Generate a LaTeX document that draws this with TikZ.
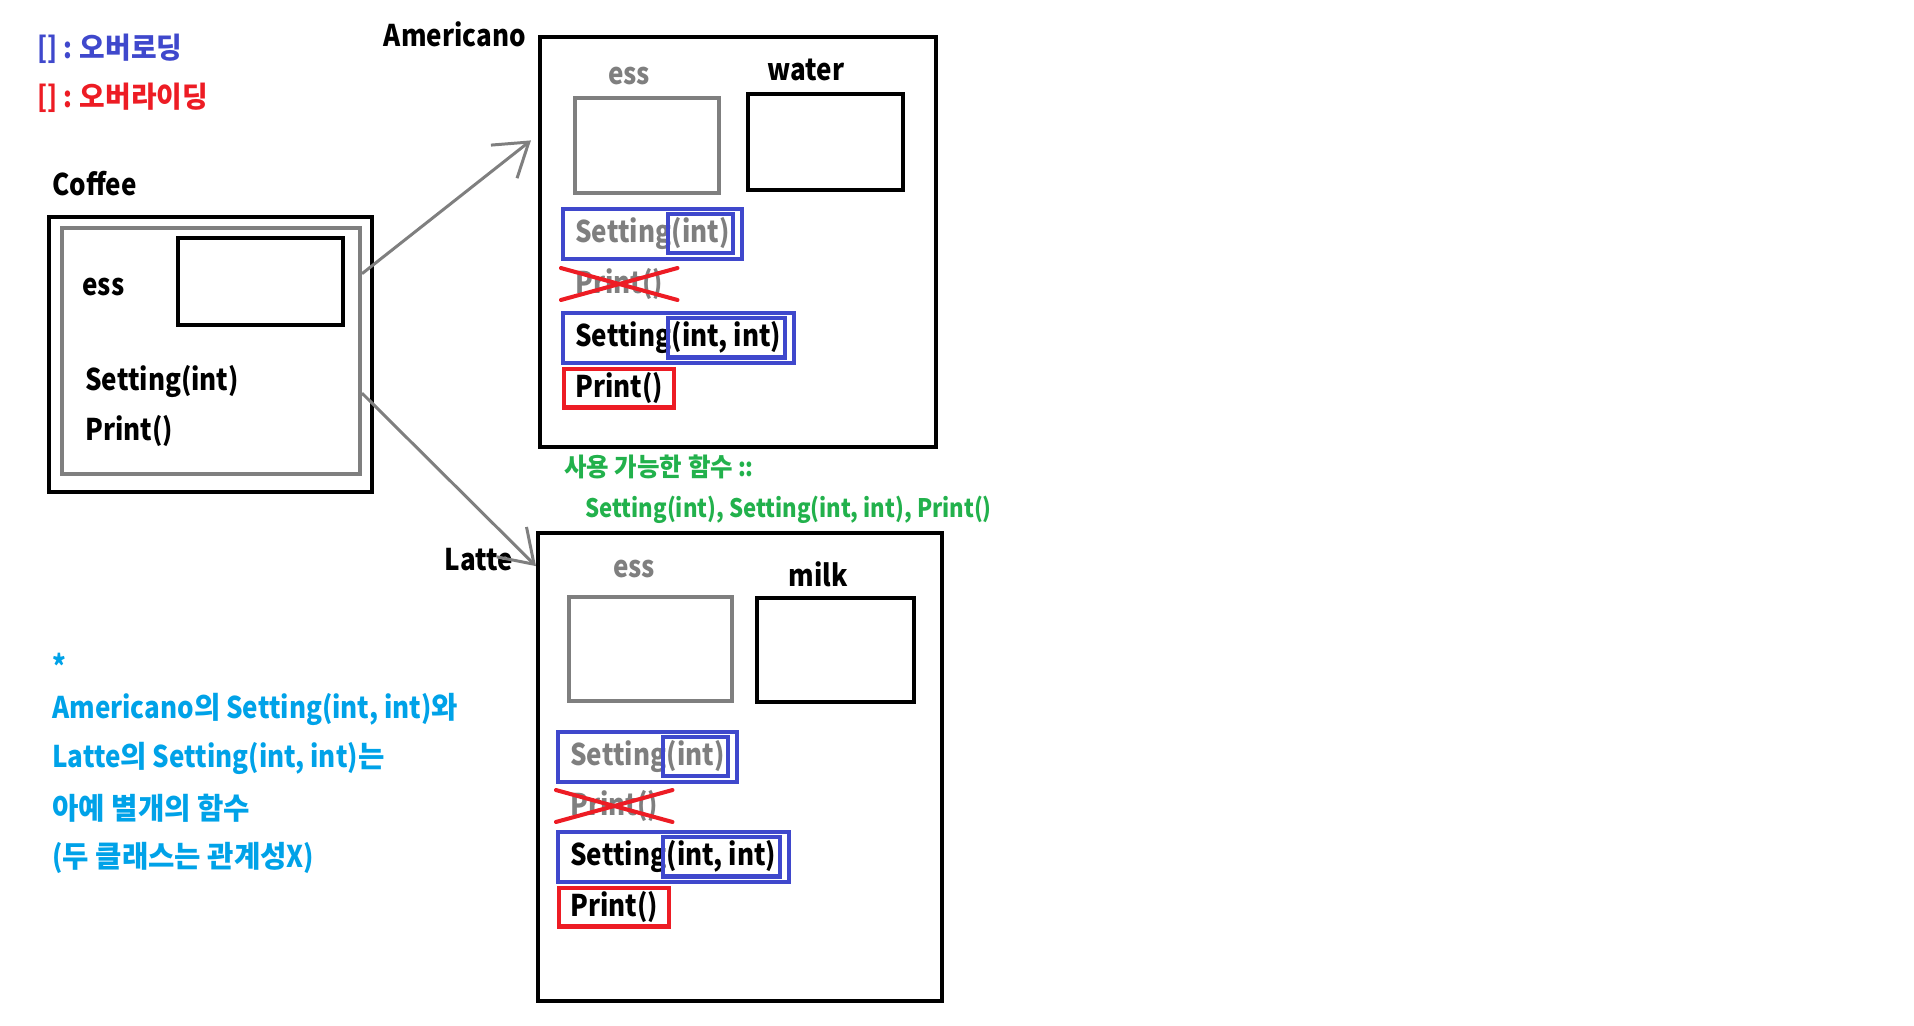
\documentclass[tikz,border=0pt]{standalone}
\usepackage{fontspec}
\setmainfont{Noto Sans CJK KR}[FakeStretch=0.87]
\newfontfamily\kr{Noto Sans CJK KR}[FakeStretch=0.96]
\usetikzlibrary{positioning,fit,arrows.meta}
\definecolor{pblue}{HTML}{3F48CC}
\definecolor{pred}{HTML}{ED1C24}
\definecolor{pgreen}{HTML}{22B14C}
\definecolor{pcyan}{HTML}{00A2E8}
\definecolor{pgray}{HTML}{7F7F7F}
\tikzset{
  clsbox/.style={draw, line width=2.3pt, inner sep=0pt},
  basebox/.style={draw=pgray, line width=2.3pt, inner sep=0pt},
  member/.style={font=\bfseries\fontsize{17}{20}\selectfont, inner sep=0pt},
  inherited/.style={member, text=pgray},
  ovlbox/.style={draw=pblue, line width=2.3pt},
  ovrbox/.style={draw=pred, line width=2.3pt, inner xsep=6pt, inner ysep=2pt},
  hidden/.style={draw=pred, line width=2.3pt, line cap=round},
  inharrow/.style={draw=pgray, line width=1.7pt, -{Straight Barb[length=18pt,width=24pt]}},
  legend/.style={font=\bfseries\fontsize{16.5}{19}\selectfont, inner sep=0pt},
  avail/.style={font=\bfseries\fontsize{14.5}{17}\selectfont, inner sep=0pt, text=pgreen},
  note/.style={member, text=pcyan}
}
\begin{document}
\begin{tikzpicture}[x=0.02cm, y=-0.02cm]
\useasboundingbox (0,0) rectangle (1914,1025);
% legend
\node[legend, text=pblue, anchor=west] (ovl) at (37,49) {[] : {\kr 오버로딩}};
\node[legend, text=pred, anchor=west] (ovr) at (37,98) {[] : {\kr 오버라이딩}};
% base class
\node[clsbox, fit={(49,217)(372,492)}] (coffee) {};
\node[basebox, fit={(62,228)(360,474)}] (coffeebase) {};
\node[clsbox, fit={(178,238)(343,325)}] (cess) {};
\node[member, anchor=west] (coffeelbl) at (52,184) {Coffee};
\node[member, anchor=west] (cessl) at (82,287) {ess};
\node[member, anchor=west] (cset) at (85,382) {Setting(int)};
\node[member, anchor=west] (cprint) at (85,431) {Print()};
% Americano
\node[clsbox, fit={(540,37)(936,447)}] (amer) {};
\node[member, anchor=east] (amerlbl) at (526,34) {Americano};
\node[basebox, fit={(575,98)(719,193)}] (aess) {};
\node[inherited] (aessl) at (629,76) {ess};
\node[clsbox, fit={(748,94)(903,190)}] (awater) {};
\node[member] (awaterl) at (806,70) {water};
\node[inherited, anchor=west] (as1) at (575,234) {Setting};
\node[inherited, anchor=base west] (as1a) at (as1.base east) {(int)};
\node[ovlbox, inner sep=2pt, fit=(as1a)] (as1in) {};
\node[ovlbox, inner xsep=7pt, inner ysep=5pt, fit=(as1)(as1a)] (as1out) {};
\node[inherited, anchor=west] (ap1) at (575,284) {Print()};
\draw[hidden] ([xshift=-8pt]ap1.north west) -- ([xshift=8pt]ap1.south east);
\draw[hidden] ([xshift=-8pt]ap1.south west) -- ([xshift=8pt]ap1.north east);
\node[member, anchor=west] (as2) at (575,338) {Setting};
\node[member, anchor=base west] (as2a) at (as2.base east) {(int, int)};
\node[ovlbox, inner sep=2pt, fit=(as2a)] (as2in) {};
\node[ovlbox, inner xsep=7pt, inner ysep=5pt, fit=(as2)(as2a)] (as2out) {};
\node[member, anchor=west] (ap2) at (575,388) {Print()};
\node[ovrbox, fit=(ap2)] (ap2box) {};
% available functions
\node[avail, anchor=west] (availt) at (564,467) {{\kr 사용 가능한 함수} ::};
\node[avail, anchor=west] (availf) at (585,510) {Setting(int), Setting(int, int), Print()};
% Latte
\node[clsbox, fit={(538,533)(942,1001)}] (latte) {};
\node[member, anchor=east] (lattelbl) at (513,560) {Latte};
\node[basebox, fit={(569,597)(732,701)}] (less) {};
\node[inherited] (lessl) at (634,569) {ess};
\node[clsbox, fit={(757,598)(914,702)}] (lmilk) {};
\node[member] (lmilkl) at (818,574) {milk};
\node[inherited, anchor=west] (ls1) at (570,757) {Setting};
\node[inherited, anchor=base west] (ls1a) at (ls1.base east) {(int)};
\node[ovlbox, inner sep=2pt, fit=(ls1a)] (ls1in) {};
\node[ovlbox, inner xsep=7pt, inner ysep=5pt, fit=(ls1)(ls1a)] (ls1out) {};
\node[inherited, anchor=west] (lp1) at (570,806) {Print()};
\draw[hidden] ([xshift=-8pt]lp1.north west) -- ([xshift=8pt]lp1.south east);
\draw[hidden] ([xshift=-8pt]lp1.south west) -- ([xshift=8pt]lp1.north east);
\node[member, anchor=west] (ls2) at (570,857) {Setting};
\node[member, anchor=base west] (ls2a) at (ls2.base east) {(int, int)};
\node[ovlbox, inner sep=2pt, fit=(ls2a)] (ls2in) {};
\node[ovlbox, inner xsep=7pt, inner ysep=5pt, fit=(ls2)(ls2a)] (ls2out) {};
\node[member, anchor=west] (lp2) at (570,907) {Print()};
\node[ovrbox, fit=(lp2)] (lp2box) {};
% inheritance
\draw[inharrow] ([yshift=44pt]coffeebase.east) -- ([xshift=-4pt,yshift=-60pt]amer.north west);
\draw[inharrow] ([yshift=-24pt]coffeebase.east) -- ([yshift=-20pt]latte.north west);
% note
\node[note, anchor=west] (n0) at (52,665) {*};
\node[note, anchor=west] (n1) at (52,709) {Americano{\kr 의} Setting(int, int){\kr 와}};
\node[note, anchor=west] (n2) at (52,758) {Latte{\kr 의} Setting(int, int){\kr 는}};
\node[note, anchor=west] (n3) at (52,808) {\kr 아예 별개의 함수};
\node[note, anchor=west] (n4) at (52,858) {({\kr 두 클래스는 관계성}X)};
\end{tikzpicture}
\end{document}
